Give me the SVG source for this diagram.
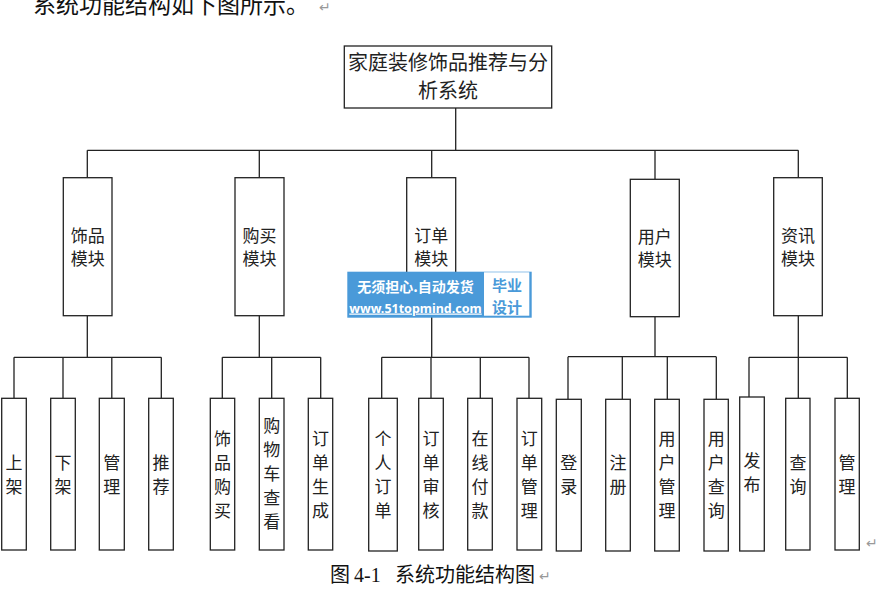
<svg xmlns="http://www.w3.org/2000/svg" width="880" height="590" viewBox="0 0 880 590">
<style>
.box{fill:#fff;stroke:#222;stroke-width:1.3}
.ln{stroke:#222;stroke-width:1.3;fill:none}
.t{font-family:"Liberation Serif","Noto Sans CJK SC",serif;font-size:17px;fill:#222;text-anchor:middle}
.rt{font-family:"Liberation Serif","Noto Sans CJK SC",serif;font-size:20px;fill:#222;text-anchor:middle}
.cap{font-family:"Liberation Serif","Noto Sans CJK SC",serif;font-size:20px;fill:#111}
.mk{font-family:"DejaVu Sans",sans-serif;font-size:14px;fill:#999}
</style>
<rect width="880" height="590" fill="#fff"/>
<text class="cap" x="33" y="13" style="font-size:23px">系统功能结构如下图所示。</text>
<text class="mk" x="319" y="12">↵</text>

<g id="connectors">
<path class="ln" d="M455.7,108 V150.3 M87.3,150.3 H798.3 M87.3,150.3 V178 M259.3,150.3 V178 M431.7,150.3 V178 M655,150.3 V179 M798.3,150.3 V178"/>
<path class="ln" d="M87.3,316 V357.3 M14,357.3 H161.3 M14,357.3 V398.3 M63,357.3 V398.3 M111.8,357.3 V398.3 M161.3,357.3 V398.3"/>
<path class="ln" d="M259.3,316 V357.3 M222.3,357.3 H320.7 M222.3,357.3 V398.3 M271.7,357.3 V398.3 M320.7,357.3 V398.3"/>
<path class="ln" d="M431.7,316 V357.3 M381.7,357.3 H529 M381.7,357.3 V398.3 M431,357.3 V398.3 M480.3,357.3 V398.3 M529,357.3 V398.3"/>
<path class="ln" d="M655,317 V356.7 M568,356.7 H716.3 M568,356.7 V399.3 M622.3,356.7 V399.3 M667.3,356.7 V399.3 M716.3,356.7 V399.3"/>
<path class="ln" d="M798.3,316 V357.3 M749,357.3 H847.3 M749,357.3 V397 M798.3,357.3 V398.3 M847.3,357.3 V398.3"/>
</g>

<g id="root">
<rect class="box" x="344.3" y="46" width="207.4" height="62"/>
<text class="rt" x="448" y="70.3">家庭装修饰品推荐与分</text>
<text class="rt" x="448" y="98.3">析系统</text>
</g>

<g id="m1"><rect class="box" x="63.3" y="177.7" width="48.7" height="138"/><text class="t" x="87.7" y="241.5">饰品</text><text class="t" x="87.7" y="264.5">模块</text></g>
<g id="m2"><rect class="box" x="235" y="177.7" width="49" height="138"/><text class="t" x="259.5" y="241.5">购买</text><text class="t" x="259.5" y="264.5">模块</text></g>
<g id="m3"><rect class="box" x="406.7" y="177.7" width="49" height="138"/><text class="t" x="431.2" y="241.5">订单</text><text class="t" x="431.2" y="264.5">模块</text></g>
<g id="m4"><rect class="box" x="630.3" y="179.3" width="49" height="137.4"/><text class="t" x="654.8" y="242.5">用户</text><text class="t" x="654.8" y="265.8">模块</text></g>
<g id="m5"><rect class="box" x="773.7" y="177.7" width="48.6" height="138"/><text class="t" x="798" y="241.5">资讯</text><text class="t" x="798" y="264.5">模块</text></g>

<g id="l1"><rect class="box" x="1.7" y="398.3" width="24.6" height="151.7"/><text class="t" x="14" y="468.5">上</text><text class="t" x="14" y="492.5">架</text></g>
<g id="l2"><rect class="box" x="50.7" y="398.3" width="24.6" height="151.7"/><text class="t" x="63" y="468.5">下</text><text class="t" x="63" y="492.5">架</text></g>
<g id="l3"><rect class="box" x="99.3" y="398.3" width="25" height="151.7"/><text class="t" x="111.8" y="468.5">管</text><text class="t" x="111.8" y="492.5">理</text></g>
<g id="l4"><rect class="box" x="148.7" y="398.3" width="24.6" height="151.7"/><text class="t" x="161" y="468.5">推</text><text class="t" x="161" y="492.5">荐</text></g>

<g id="l5"><rect class="box" x="210.3" y="398.3" width="24.4" height="151.7"/><text class="t" x="222.5" y="444.5">饰</text><text class="t" x="222.5" y="468.5">品</text><text class="t" x="222.5" y="492.5">购</text><text class="t" x="222.5" y="516.5">买</text></g>
<g id="l6"><rect class="box" x="259.3" y="398.3" width="24.7" height="151.7"/><text class="t" x="271.7" y="432">购</text><text class="t" x="271.7" y="456">物</text><text class="t" x="271.7" y="480">车</text><text class="t" x="271.7" y="504">查</text><text class="t" x="271.7" y="528">看</text></g>
<g id="l7"><rect class="box" x="308.3" y="398.3" width="24.4" height="151.7"/><text class="t" x="320.5" y="444.5">订</text><text class="t" x="320.5" y="468.5">单</text><text class="t" x="320.5" y="492.5">生</text><text class="t" x="320.5" y="516.5">成</text></g>

<g id="l8"><rect class="box" x="368.7" y="398.3" width="28.6" height="152.7"/><text class="t" x="383" y="444.5">个</text><text class="t" x="383" y="468.5">人</text><text class="t" x="383" y="492.5">订</text><text class="t" x="383" y="516.5">单</text></g>
<g id="l9"><rect class="box" x="418.7" y="398.3" width="24.6" height="151.7"/><text class="t" x="431" y="444.5">订</text><text class="t" x="431" y="468.5">单</text><text class="t" x="431" y="492.5">审</text><text class="t" x="431" y="516.5">核</text></g>
<g id="l10"><rect class="box" x="467.7" y="398.3" width="24.6" height="151.7"/><text class="t" x="480" y="444.5">在</text><text class="t" x="480" y="468.5">线</text><text class="t" x="480" y="492.5">付</text><text class="t" x="480" y="516.5">款</text></g>
<g id="l11"><rect class="box" x="517" y="398.3" width="24.7" height="151.7"/><text class="t" x="529.3" y="444.5">订</text><text class="t" x="529.3" y="468.5">单</text><text class="t" x="529.3" y="492.5">管</text><text class="t" x="529.3" y="516.5">理</text></g>

<g id="l12"><rect class="box" x="556.3" y="399.3" width="25" height="151.7"/><text class="t" x="568.8" y="468.5">登</text><text class="t" x="568.8" y="492.5">录</text></g>
<g id="l13"><rect class="box" x="605.7" y="399.3" width="24.6" height="151.7"/><text class="t" x="618" y="468.5">注</text><text class="t" x="618" y="492.5">册</text></g>
<g id="l14"><rect class="box" x="654.7" y="399.3" width="24.6" height="151.7"/><text class="t" x="667" y="444.5">用</text><text class="t" x="667" y="468.5">户</text><text class="t" x="667" y="492.5">管</text><text class="t" x="667" y="516.5">理</text></g>
<g id="l15"><rect class="box" x="704" y="399.3" width="24.3" height="151.7"/><text class="t" x="716.2" y="444.5">用</text><text class="t" x="716.2" y="468.5">户</text><text class="t" x="716.2" y="492.5">查</text><text class="t" x="716.2" y="516.5">询</text></g>

<g id="l16"><rect class="box" x="739.7" y="397" width="24.6" height="154"/><text class="t" x="752" y="467">发</text><text class="t" x="752" y="491">布</text></g>
<g id="l17"><rect class="box" x="785.7" y="398.3" width="24.3" height="151.7"/><text class="t" x="798" y="468.5">查</text><text class="t" x="798" y="492.5">询</text></g>
<g id="l18"><rect class="box" x="835" y="398.3" width="24.3" height="151.7"/><text class="t" x="847" y="468.5">管</text><text class="t" x="847" y="492.5">理</text></g>

<text class="mk" x="866" y="548">↵</text>

<g id="caption">
<text class="cap" y="582"><tspan x="330">图</tspan><tspan x="354">4-1</tspan><tspan x="395">系统功能结构图</tspan></text>
<text class="mk" x="539" y="581">↵</text>
</g>

<g id="watermark">
<rect x="347.3" y="271.7" width="184.4" height="46" fill="#4a9ad9"/>
<rect x="484" y="272.3" width="45.3" height="43.4" fill="#fff"/>
<text x="415.5" y="292" style="font-family:'Noto Sans CJK SC',sans-serif;font-size:14px;font-weight:bold;fill:#fff;text-anchor:middle">无须担心.自动发货</text>
<text x="415.5" y="312.5" style="font-family:'Noto Sans','DejaVu Sans',sans-serif;font-size:12.5px;font-weight:bold;fill:#fff;text-anchor:middle;text-decoration:underline">www.51topmind.com</text>
<text x="507" y="291" style="font-family:'Noto Sans CJK SC',sans-serif;font-size:15px;font-weight:bold;fill:#4a9ad9;text-anchor:middle">毕业</text>
<text x="507" y="313" style="font-family:'Noto Sans CJK SC',sans-serif;font-size:15px;font-weight:bold;fill:#4a9ad9;text-anchor:middle">设计</text>
</g>
</svg>
